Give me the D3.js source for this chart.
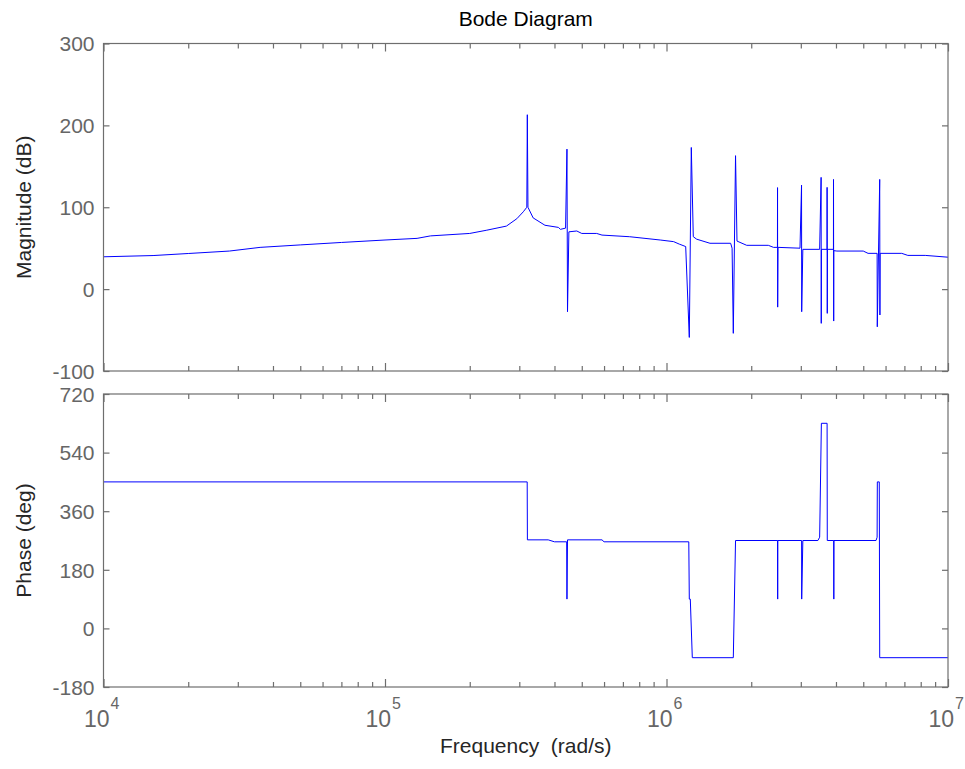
<!DOCTYPE html>
<html><head><meta charset="utf-8">
<script src="https://cdn.jsdelivr.net/npm/d3@7"></script>
<style>body{margin:0;background:#fff}svg{display:block}</style>
</head><body>
<script>
// ---- data ----
const magFreq = [
  1e4, 1.5e4, 2e4, 2.8e4, 3.6e4, 5e4, 7e4, 1e5, 1.3e5, 1.45e5,
  2e5, 2.3e5, 2.7e5, 2.94e5, 3.1e5, 3.19e5, 3.203e5, 3.22e5, 3.36e5, 3.7e5,
  4.13e5, 4.2e5, 4.38e5, 4.43e5, 4.45e5, 4.5e5, 4.8e5, 5.0e5, 5.65e5, 5.9e5,
  7.4e5, 9.5e5, 1.06e6, 1.11e6, 1.17e6, 1.205e6, 1.225e6, 1.245e6, 1.28e6, 1.427e6,
  1.69e6, 1.71e6, 1.727e6, 1.759e6, 1.78e6, 1.927e6, 2.3e6, 2.4e6, 2.478e6, 2.48e6,
  2.483e6, 2.49e6, 2.98e6, 3.018e6, 3.022e6, 3.05e6, 3.5e6, 3.542e6, 3.546e6, 3.55e6,
  3.718e6, 3.72e6, 3.725e6, 3.73e6, 3.918e6, 3.92e6, 3.926e6, 3.93e6, 4.03e6, 5.0e6,
  5.2e6, 5.6e6, 5.608e6, 5.72e6, 5.73e6, 5.74e6, 6.85e6, 7.2e6, 8.3e6, 1e7];
const magDb = [
  39.5, 41, 43.5, 46.5, 51, 54, 57, 60, 62, 65,
  68, 72, 77, 86, 94.5, 100, 213, 100, 87, 78,
  75.4, 73, 74.5, 171, -27.6, 70, 71, 68, 68, 66,
  64, 60, 58, 55, 52, -59, 173, 64, 61, 56,
  56, 50, -54, 163, 58.7, 53.5, 53.5, 51, 51, 124,
  -22, 51, 50, 127, -27.6, 48.6, 48.6, 136.5, -41.8, 48.6,
  48.6, 124.3, -29.6, 48.6, 48.6, 134, -39, 47, 46.5, 46.5,
  43.7, 43.7, -46, 134, -31.6, 43.7, 43.7, 41.2, 41.2, 39];
const phaseFreq = [1e4,3.2e5,3.205e5,3.8e5,4.0e5,4.42e5,4.43e5,4.45e5,5.9e5,6.0e5,1.2e6,1.205e6,1.215e6,1.235e6,1.727e6,1.759e6,2.48e6,2.483e6,2.486e6,3.02e6,3.022e6,3.05e6,3.45e6,3.5e6,3.55e6,3.72e6,3.725e6,3.926e6,3.93e6,3.935e6,5.55e6,5.6e6,5.61e6,5.7e6,5.72e6,1e7];
const phaseDeg  = [450,450,272,272,266,266,90,272,272,266,266,90,90,-90,-90,270,270,90,270,270,90,270,270,280,630,630,270,270,90,270,270,280,450,450,-90,-90];
const magTicks = [-100,0,100,200,300];
const phaseTicks = [-180,0,180,360,540,720];
const decades = [4,5,6,7];
const titleText = "Bode Diagram";
const magLabel = "Magnitude (dB)";
const phaseLabel = "Phase (deg)";
const xLabel = "Frequency  (rad/s)";

// ---- layout ----
const W = 965, H = 769;
const L = 103.5, R = 948;
const top1 = 43.5, bot1 = 371, top2 = 394, bot2 = 687;
const axisColor = "#6e6e6e", tickText = "#666666", labelColor = "#262626";
const font = "'Liberation Sans', Arial, Helvetica, sans-serif";

const svg = d3.select("body").append("svg").attr("width", W).attr("height", H)
  .style("font-family", font);

const x = d3.scaleLog().domain([1e4,1e7]).range([L,R]);
const yMag = d3.scaleLinear().domain([-100,300]).range([bot1,top1]);
const yPh = d3.scaleLinear().domain([-180,720]).range([bot2,top2]);

const minor = [];
decades.slice(0,-1).forEach(d => { for (let k=2;k<=9;k++) minor.push(k*Math.pow(10,d)); });
const major = decades.map(d => Math.pow(10,d));

function panel(y, ticks, t, b, id, fData, vData, label) {
  const g = svg.append("g");
  svg.append("clipPath").attr("id", id).append("rect")
    .attr("x", L).attr("y", t).attr("width", R-L).attr("height", b-t);
  const pts = fData.map((f,i)=>[f, vData[i]]);
  g.append("path").attr("clip-path", `url(#${id})`)
    .attr("d", d3.line().x(d=>x(d[0])).y(d=>y(d[1]))(pts))
    .attr("fill","none").attr("stroke","#0000ff").attr("stroke-width",1);
  g.append("rect").attr("x",L).attr("y",t).attr("width",R-L).attr("height",b-t)
    .attr("fill","none").attr("stroke",axisColor).attr("stroke-width",1.2);
  const left = g.append("g").attr("transform",`translate(${L},0)`)
    .call(d3.axisLeft(y).tickValues(ticks).tickSizeInner(-6).tickSizeOuter(0)
      .tickPadding(9).tickFormat(d => String(d)));
  const right = g.append("g").attr("transform",`translate(${R},0)`)
    .call(d3.axisRight(y).tickValues(ticks).tickSizeInner(-6).tickSizeOuter(0).tickFormat(""));
  const xb = g.append("g").attr("transform",`translate(0,${b})`)
    .call(d3.axisBottom(x).tickValues(minor).tickSizeInner(-5).tickSizeOuter(0).tickFormat(""));
  const xbM = g.append("g").attr("transform",`translate(0,${b})`)
    .call(d3.axisBottom(x).tickValues(major).tickSizeInner(-8).tickSizeOuter(0).tickFormat(""));
  const xt = g.append("g").attr("transform",`translate(0,${t})`)
    .call(d3.axisTop(x).tickValues(minor).tickSizeInner(-5).tickSizeOuter(0).tickFormat(""));
  const xtM = g.append("g").attr("transform",`translate(0,${t})`)
    .call(d3.axisTop(x).tickValues(major).tickSizeInner(-8).tickSizeOuter(0).tickFormat(""));
  [left,right,xb,xbM,xt,xtM].forEach(a=>{
    a.select(".domain").remove();
    a.selectAll(".tick line").attr("stroke",axisColor).attr("stroke-width",1.2);
  });
  left.selectAll(".tick text").attr("fill",tickText).style("font-size","21px")
    .style("font-family",font).attr("dy","0.35em");
  svg.append("text").attr("transform",`translate(31,${(t+b)/2}) rotate(-90)`)
    .attr("text-anchor","middle").attr("fill",labelColor).style("font-size","21px")
    .text(label);
}

panel(yMag, magTicks, top1, bot1, "c1", magFreq, magDb, magLabel);
panel(yPh, phaseTicks, top2, bot2, "c2", phaseFreq, phaseDeg, phaseLabel);

// x tick labels 10^n
decades.forEach(d => {
  const xx = x(Math.pow(10,d));
  svg.append("text").attr("x", xx+6).attr("y", 727)
    .attr("text-anchor","end").attr("fill",tickText).style("font-size","23px").text("10");
  svg.append("text").attr("x", xx+7).attr("y", 709).attr("fill",tickText)
    .style("font-size","16px").text(String(d));
});

svg.append("text").attr("x",(L+R)/2).attr("y",26).attr("text-anchor","middle")
  .attr("fill","#000").style("font-size","21px").text(titleText);
svg.append("text").attr("x",(L+R)/2).attr("y",753).attr("text-anchor","middle")
  .attr("fill",labelColor).style("font-size","21px")
  .attr("xml:space","preserve").text(xLabel);
</script>
</body></html>
